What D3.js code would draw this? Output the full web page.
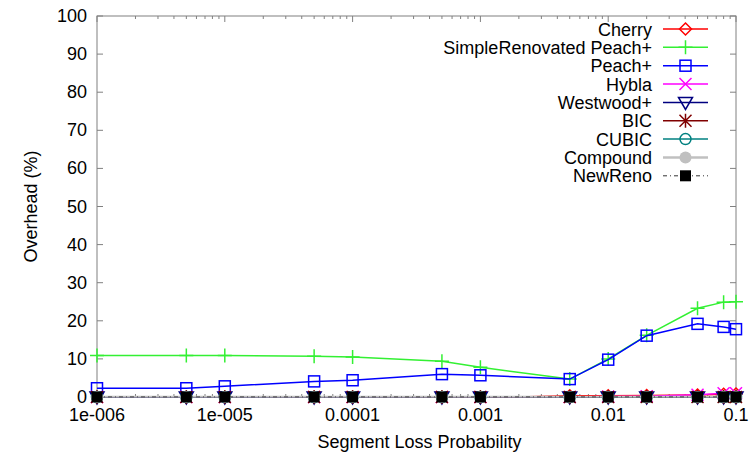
<!DOCTYPE html>
<html><head><meta charset="utf-8">
<script src="https://cdn.jsdelivr.net/npm/d3@7"></script>
<style>body{margin:0;background:#fff}text{font-family:"Liberation Sans",Arial,sans-serif;fill:#000}</style>
</head><body><svg id="c" width="756" height="457"></svg>
<script>
const lossProb = [1e-6,5e-6,1e-5,5e-5,1e-4,5e-4,1e-3,5e-3,1e-2,2e-2,5e-2,8e-2,1e-1];
const xTicks = [1e-6,1e-5,1e-4,1e-3,1e-2,1e-1];
const xTickLabels = ["1e-006","1e-005","0.0001","0.001","0.01","0.1"];
const yTicks = [0,10,20,30,40,50,60,70,80,90,100];
const cherry = [-0.5,-0.5,-0.5,-0.4,-0.4,-0.3,-0.2,0.3,0.3,0.4,0.5,0.7,0.8];
const simpleRenovated = [10.9,10.9,10.9,10.7,10.5,9.4,7.8,4.7,10,16.2,23.3,24.9,25];
const peachPlus = [2.3,2.3,2.8,4.1,4.4,6.0,5.7,4.7,9.8,16.1,19.2,18.4,17.8];
const hybla = [0,0,0,0,0,0,0,0,0.1,0.2,0.6,1.0,1.0];
const westwood = [0,0,0,0,0,0,0,0,0,0,0,0,0];
const bic = [0,0,0,0,0,0,0,0,0,0,0,0,0];
const cubic = [0,0,0,0,0,0,0,0,0,0,0,0,0];
const compound = [0,0,0,0,0,0,0,0,0,0,0,0,0];
const newReno = [0,0,0,0,0,0,0,0,0,0,0,0,0];

const series = [
 {name:"Cherry", ys:cherry, color:"#ff0000", marker:"diamond"},
 {name:"SimpleRenovated Peach+", ys:simpleRenovated, color:"#33f033", marker:"plus"},
 {name:"Peach+", ys:peachPlus, color:"#0000ff", marker:"square"},
 {name:"Hybla", ys:hybla, color:"#ff00ff", marker:"cross"},
 {name:"Westwood+", ys:westwood, color:"#000080", marker:"tri"},
 {name:"BIC", ys:bic, color:"#800000", marker:"star"},
 {name:"CUBIC", ys:cubic, color:"#008080", marker:"circle"},
 {name:"Compound", ys:compound, color:"#c0c0c0", marker:"fcircle", lw:2.5},
 {name:"NewReno", ys:newReno, color:"#000000", marker:"fsquare", dash:"4,3,1,3", lw:0.8}
];

const L=97,R=736,T=16,B=397;
const svg=d3.select("#c");
const x=d3.scaleLog().domain([1e-6,0.1]).range([L,R]);
const y=d3.scaleLinear().domain([0,100]).range([B,T]);

svg.append("defs").append("clipPath").attr("id","plot").append("rect")
  .attr("x",L).attr("y",T-1).attr("width",R-L).attr("height",B-T+1.5);

svg.append("rect").attr("x",L).attr("y",T).attr("width",R-L).attr("height",B-T)
  .attr("fill","none").attr("stroke","#808080").attr("stroke-width",1);

const g=svg.append("g").attr("stroke","#808080").attr("stroke-width",1);
yTicks.forEach(v=>{
  g.append("line").attr("x1",L).attr("x2",L+6).attr("y1",y(v)).attr("y2",y(v));
  g.append("line").attr("x1",R).attr("x2",R-6).attr("y1",y(v)).attr("y2",y(v));
});
svg.append("g").selectAll("text").data(yTicks).join("text")
  .attr("x",L-10).attr("y",d=>y(d)+6).attr("text-anchor","end").attr("font-size",18).text(d=>d);
const minor=[];
for(let e=-6;e<-1;e++) for(let k=2;k<=9;k++) minor.push(k*Math.pow(10,e));
minor.forEach(v=>{
  g.append("line").attr("x1",x(v)).attr("x2",x(v)).attr("y1",B).attr("y2",B-3);
  g.append("line").attr("x1",x(v)).attr("x2",x(v)).attr("y1",T).attr("y2",T+3);
});
xTicks.forEach(v=>{
  g.append("line").attr("x1",x(v)).attr("x2",x(v)).attr("y1",B).attr("y2",B-6);
  g.append("line").attr("x1",x(v)).attr("x2",x(v)).attr("y1",T).attr("y2",T+6);
});
svg.append("g").selectAll("text").data(xTicks).join("text")
  .attr("x",d=>x(d)).attr("y",B+24).attr("text-anchor","middle").attr("font-size",18)
  .text((d,i)=>xTickLabels[i]);

svg.append("text").attr("x",(L+R)/2+3).attr("y",448).attr("text-anchor","middle").attr("font-size",18).text("Segment Loss Probability");
svg.append("text").attr("transform",`translate(37,${(T+B)/2}) rotate(-90)`).attr("text-anchor","middle").attr("font-size",18).text("Overhead (%)");

function marker(sel,type,color,cx,cy){
  const s=6;
  if(type==="diamond") sel.append("path").attr("d",`M${cx},${cy-s}L${cx+s},${cy}L${cx},${cy+s}L${cx-s},${cy}Z`).attr("fill","none").attr("stroke",color).attr("stroke-width",1.5);
  else if(type==="plus") sel.append("path").attr("d",`M${cx-7},${cy}H${cx+7}M${cx},${cy-7}V${cy+7}`).attr("stroke",color).attr("stroke-width",1.5);
  else if(type==="square") sel.append("rect").attr("x",cx-5.5).attr("y",cy-5.5).attr("width",11).attr("height",11).attr("fill","none").attr("stroke",color).attr("stroke-width",1.5);
  else if(type==="cross") sel.append("path").attr("d",`M${cx-6},${cy-6}L${cx+6},${cy+6}M${cx-6},${cy+6}L${cx+6},${cy-6}`).attr("stroke",color).attr("stroke-width",1.5);
  else if(type==="tri") sel.append("path").attr("d",`M${cx-7},${cy-5}H${cx+7}L${cx},${cy+7}Z`).attr("fill","none").attr("stroke",color).attr("stroke-width",1.5);
  else if(type==="star") sel.append("path").attr("d",`M${cx-6},${cy-6}L${cx+6},${cy+6}M${cx-6},${cy+6}L${cx+6},${cy-6}M${cx},${cy-7}V${cy+7}`).attr("stroke",color).attr("stroke-width",1.5);
  else if(type==="circle") sel.append("circle").attr("cx",cx).attr("cy",cy).attr("r",5.5).attr("fill","none").attr("stroke",color).attr("stroke-width",1.5);
  else if(type==="fcircle") sel.append("circle").attr("cx",cx).attr("cy",cy).attr("r",6).attr("fill",color);
  else if(type==="fsquare") sel.append("rect").attr("x",cx-5.5).attr("y",cy-5.5).attr("width",11).attr("height",11).attr("fill",color);
}

const line=d3.line();
series.forEach(s=>{
  const pts=lossProb.map((xv,i)=>[x(xv),y(s.ys[i]),s.ys[i]]);
  const gg=svg.append("g");
  gg.append("path").attr("d",line(pts.map(p=>[p[0],p[1]]))).attr("fill","none").attr("stroke",s.color)
    .attr("stroke-width",s.lw||1.5).attr("stroke-dasharray",s.dash||null).attr("clip-path","url(#plot)");
  pts.filter(p=>p[2]>=0).forEach(p=>marker(gg,s.marker,s.color,p[0],p[1]));
});

const lg=svg.append("g");
series.forEach((s,i)=>{
  const yy=29+i*18.35;
  lg.append("text").attr("x",652).attr("y",yy+6.5).attr("text-anchor","end").attr("font-size",18).text(s.name);
  lg.append("line").attr("x1",663).attr("x2",708).attr("y1",yy).attr("y2",yy).attr("stroke",s.color)
    .attr("stroke-width",s.lw||1.5).attr("stroke-dasharray",s.dash||null);
  marker(lg,s.marker,s.color,685.5,yy);
});
</script></body></html>
